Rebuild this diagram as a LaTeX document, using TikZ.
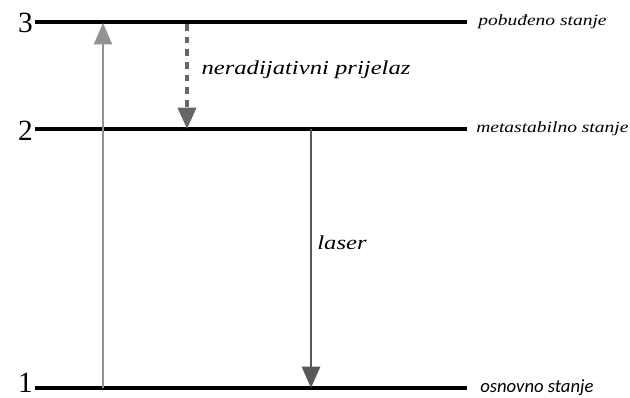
\documentclass[tikz,border=0pt]{standalone}
\usepackage{fontspec}
\setmainfont{Liberation Serif}
\newfontfamily\widefont[FakeStretch=1.25]{Liberation Serif}
\newfontfamily\sansit{Carlito}
\usetikzlibrary{calc, positioning, arrows.meta}

\begin{document}
\begin{tikzpicture}[x=0.75pt, y=-0.75pt,
  level/.style={line width=3pt},
  num/.style={anchor=east, inner sep=0pt, font=\fontsize{22}{22}\selectfont},
  state/.style={anchor=west, inner sep=0pt, font=\widefont\itshape\fontsize{11.7}{12}\selectfont},
  lbl/.style={inner sep=0pt, font=\widefont\itshape\fontsize{14.8}{15}\selectfont},
  tip/.style={-{Triangle[length=16pt, width=13.5pt]}}]
  \useasboundingbox (0,0) rectangle (630,398);

  % energy levels
  \coordinate (E3a) at (35,22);
  \coordinate (E3b) at (467,22);
  \coordinate (E2a) at (35,129);
  \coordinate (E2b) at (467,129);
  \coordinate (E1a) at (35,388);
  \coordinate (E1b) at (467,388);
  \draw[level] (E3a) -- (E3b);
  \draw[level] (E2a) -- (E2b);
  \draw[level] (E1a) -- (E1b);

  % level numbers
  \node[num] (n3) at ($(E3a)+(-2,1)$) {3};
  \node[num] (n2) at ($(E2a)+(-2,2)$) {2};
  \node[num] (n1) at ($(E1a)+(-2,-5)$) {1};

  % level names
  \node[state] (s3) at ($(E3b)+(11,0)$) {pobuđeno stanje};
  \node[state] (s2) at ($(E2b)+(9,0)$) {metastabilno stanje};
  \node[anchor=west, inner sep=0pt, font=\sansit\itshape\fontsize{14}{14}\selectfont]
    (s1) at ($(E1b)+(13,0)$) {osnovno stanje};

  % pumping 1 -> 3
  \coordinate (p1) at (103,388);
  \coordinate (p3) at (103,23);
  \draw[tip, line width=1.5pt, color=gray!85] (p1) -- (p3);

  % non-radiative 3 -> 2
  \coordinate (q3) at (187,24);
  \coordinate (q2) at (187,129);
  \draw[tip, line width=3pt, color=black!60, dash pattern=on 5pt off 4.5pt] (q3) -- (q2);
  \node[lbl] (nr) at (306,70) {neradijativni prijelaz};

  % laser 2 -> 1
  \coordinate (r2) at (311,129);
  \coordinate (r1) at (311,388);
  \draw[tip, line width=2.2pt, color=black!65] (r2) -- (r1);
  \node[lbl] (ls) at (342,243) {laser};
\end{tikzpicture}
\end{document}
